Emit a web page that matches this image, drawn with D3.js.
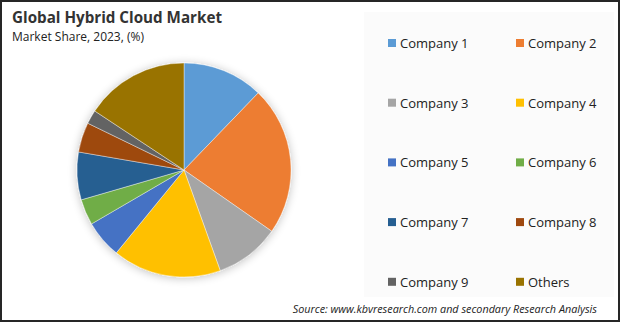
<!DOCTYPE html>
<html>
<head>
<meta charset="utf-8">
<script src="https://cdn.jsdelivr.net/npm/d3@7"></script>
<style>
  html, body { margin: 0; padding: 0; background: #fff; }
  svg { display: block; font-family: "Open Sans", sans-serif; }
</style>
</head>
<body>
<svg id="chart" width="620" height="322"></svg>
<script>
// Données du graphique
const companies = ["Company 1", "Company 2", "Company 3", "Company 4", "Company 5",
                   "Company 6", "Company 7", "Company 8", "Company 9", "Others"];
const shares = [12.2, 22.5, 9.8, 16.4, 5.7, 3.9, 7.2, 4.5, 2.1, 15.7];
const colors = ["#5B9BD5", "#ED7D31", "#A5A5A5", "#FFC000", "#4472C4",
                "#70AD47", "#255E91", "#9E480E", "#636363", "#997300"];

const svg = d3.select("#chart");
const W = 620, H = 322;

// Fond
svg.append("rect")
    .attr("x", 0).attr("y", 0).attr("width", W).attr("height", H)
    .attr("fill", "#fff");

// Panneau de la légende
svg.append("rect")
    .attr("x", 364).attr("y", 12).attr("width", 250).attr("height", 285)
    .attr("fill", "#fbfbfb");

// Cadre
svg.append("rect")
    .attr("x", 1).attr("y", 1).attr("width", W - 2).attr("height", H - 2)
    .attr("fill", "none")
    .attr("stroke", "#262626")
    .attr("stroke-width", 2);

// Titres
svg.append("text")
    .attr("x", 12).attr("y", 23)
    .style("font-size", "15.2px")
    .style("font-weight", "bold")
    .style("fill", "#333")
    .text("Global Hybrid Cloud Market");

svg.append("text")
    .attr("x", 12).attr("y", 41)
    .style("font-size", "12px")
    .style("fill", "#222")
    .text("Market Share, 2023, (%)");

// Ombre du camembert
const defs = svg.append("defs");
const filter = defs.append("filter")
    .attr("id", "shadow")
    .attr("x", "-30%").attr("y", "-30%").attr("width", "160%").attr("height", "160%");
filter.append("feGaussianBlur").attr("in", "SourceAlpha").attr("stdDeviation", 5);
filter.append("feOffset").attr("dx", 0).attr("dy", 1).attr("result", "b");
filter.append("feComponentTransfer").append("feFuncA").attr("type", "linear").attr("slope", 0.25);
const merge = filter.append("feMerge");
merge.append("feMergeNode");
merge.append("feMergeNode").attr("in", "SourceGraphic");

// Camembert
const cx = 184, cy = 170, radius = 107;
const pie = d3.pie().sort(null).value(d => d);
const arc = d3.arc().innerRadius(0).outerRadius(radius);
const color = d3.scaleOrdinal().domain(companies).range(colors);

const g = svg.append("g")
    .attr("transform", `translate(${cx}, ${cy})`)
    .attr("filter", "url(#shadow)");

g.selectAll("path")
    .data(pie(shares))
    .enter().append("path")
    .attr("d", arc)
    .attr("fill", (d, i) => color(companies[i]))
    .attr("stroke", "#fff")
    .attr("stroke-width", 0.4);

// Légende
const legend = svg.append("g");
const item = legend.selectAll("g")
    .data(companies)
    .enter().append("g")
    .attr("transform", (d, i) => `translate(${388 + (i % 2) * 128}, ${43 + Math.floor(i / 2) * 59.7})`);

item.append("rect")
    .attr("x", 0).attr("y", -4)
    .attr("width", 8).attr("height", 8)
    .attr("fill", d => color(d));

item.append("text")
    .attr("x", 12).attr("y", 5)
    .style("font-size", "13px")
    .style("fill", "#222")
    .text(d => d);

// Source
svg.append("text")
    .attr("x", 597).attr("y", 313)
    .attr("text-anchor", "end")
    .style("font-size", "10.8px")
    .style("font-style", "italic")
    .style("fill", "#222")
    .text("Source: www.kbvresearch.com and secondary Research Analysis");
</script>
</body>
</html>
